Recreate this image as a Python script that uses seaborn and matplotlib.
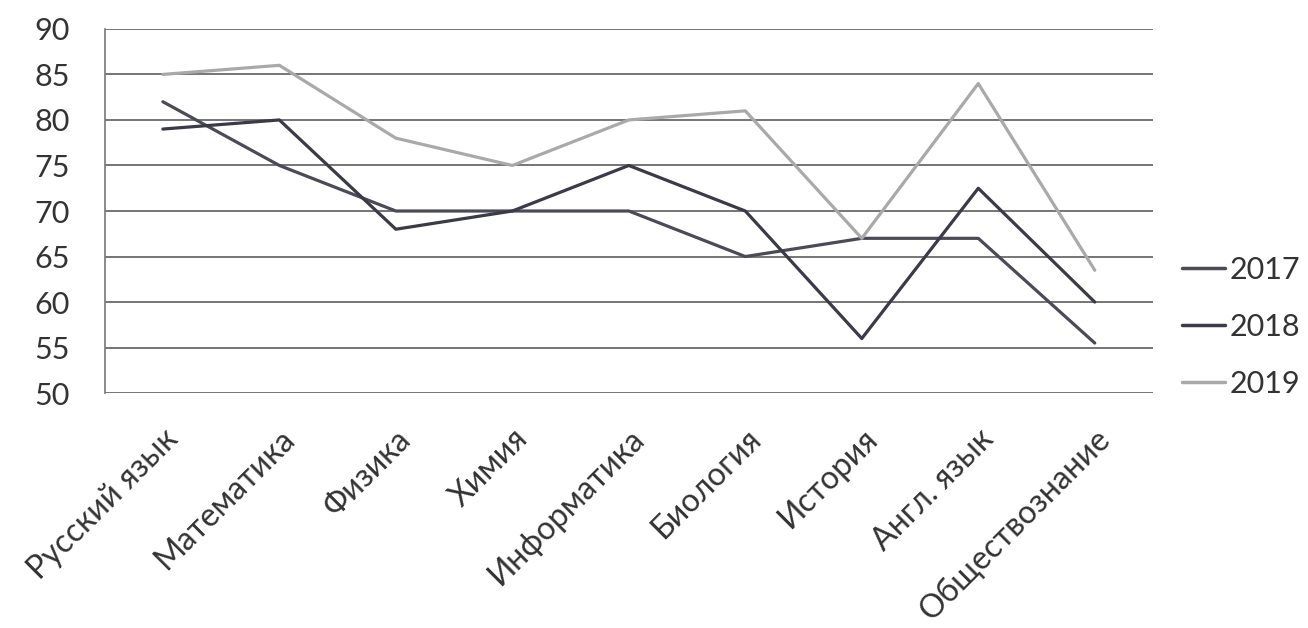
import pandas as pd
import matplotlib
matplotlib.use("Agg")
import matplotlib.pyplot as plt
import seaborn as sns

# Данные
predmety = ["Русский язык", "Математика", "Физика", "Химия", "Информатика",
            "Биология", "История", "Англ. язык", "Обществознание"]
god_2017 = [82, 75, 70, 70, 70, 65, 67, 67, 55.5]
god_2018 = [79, 80, 68, 70, 75, 70, 56, 72.5, 60]
god_2019 = [85, 86, 78, 75, 80, 81, 67, 84, 63.5]
y_ticks = [50, 55, 60, 65, 70, 75, 80, 85, 90]

# Таблица в длинном формате
df = pd.DataFrame({
    "Предмет": predmety * 3,
    "Балл": god_2017 + god_2018 + god_2019,
    "Год": ["2017"] * 9 + ["2018"] * 9 + ["2019"] * 9,
})
df["x"] = df["Предмет"].map({p: i for i, p in enumerate(predmety)})

sns.set_style("white")
plt.rcParams["font.family"] = ["Lato", "DejaVu Sans"]

fig = plt.figure(figsize=(13.08, 6.28), dpi=100)
ax = fig.add_axes([0.080, 0.374, 0.8015, 0.580])

paleta = {"2017": "#4b4b58", "2018": "#3a3a48", "2019": "#a9a9a9"}
sns.lineplot(data=df, x="x", y="Балл", hue="Год", palette=paleta,
             sort=False, linewidth=2.3, ax=ax)

ax.set_xlim(-0.5, len(predmety) - 0.5)
ax.set_ylim(50, 90)
ax.set_yticks(y_ticks)
ax.set_yticklabels([str(t) for t in y_ticks], fontsize=22, color="#333333")
ax.set_xticks(range(len(predmety)))
ax.set_xticklabels(predmety, rotation=45, ha="right", rotation_mode="anchor",
                   fontsize=23, color="#333333")
ax.tick_params(axis="y", length=0, pad=25)
ax.tick_params(axis="x", length=0, pad=22)
ax.set_xlabel("")
ax.set_ylabel("")

# Сетка
for t in y_ticks:
    ax.axhline(t, color="#6a6a6a", linewidth=1.3, zorder=0)
for s in ["top", "right", "bottom"]:
    ax.spines[s].set_visible(False)
ax.spines["left"].set_color("#777777")
ax.spines["left"].set_linewidth(1.2)

# Легенда
leg = ax.legend(loc="upper left", bbox_to_anchor=(1.028, 0.376), frameon=False,
                fontsize=22, handlelength=1.4, handletextpad=0.15,
                labelspacing=0.94, borderaxespad=0, borderpad=0)
for line in leg.get_lines():
    line.set_linewidth(2.5)
for txt in leg.get_texts():
    txt.set_color("#333333")

fig.savefig("out.png", dpi=100)
